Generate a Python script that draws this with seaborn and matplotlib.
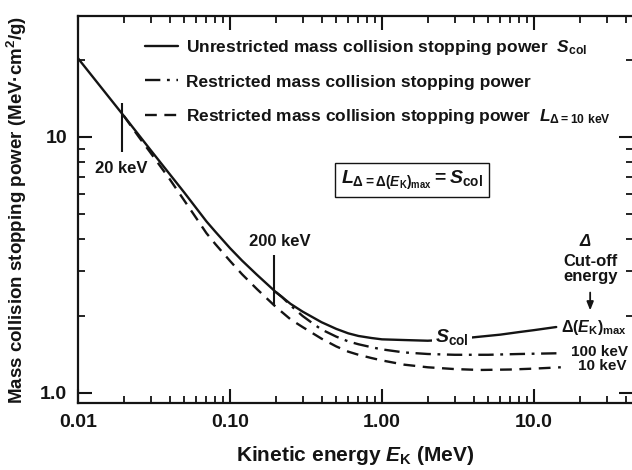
import numpy as np
import pandas as pd
import matplotlib
matplotlib.use("Agg")
import matplotlib.pyplot as plt
from matplotlib.lines import Line2D
from matplotlib.ticker import FixedLocator, LogLocator, NullFormatter
import seaborn as sns

# ---------------- data ----------------
# Unrestricted mass collision stopping power S_col (MeV cm^2/g)
e_scol = [0.01, 0.02, 0.03, 0.05, 0.07, 0.08, 0.1, 0.12, 0.15, 0.2, 0.25, 0.3, 0.4, 0.5,
          0.6, 0.7, 0.85, 1.0, 1.4, 2.0, 3.0, 4.0, 6.0, 8.0, 10.0, 14.0]
s_scol = [20.3, 12.1, 8.9, 6.07, 4.68, 4.27, 3.68, 3.29, 2.90, 2.48, 2.23, 2.08, 1.89, 1.78,
          1.71, 1.67, 1.64, 1.62, 1.61, 1.60, 1.62, 1.65, 1.69, 1.73, 1.76, 1.81]

# Restricted, cut-off 100 keV (dash-dot)
e_r100 = [0.2, 0.22, 0.25, 0.3, 0.35, 0.4, 0.5, 0.6, 0.7, 0.85, 1.0, 1.4, 2.0, 3.0, 5.0, 8.0, 15.0]
s_r100 = [2.48, 2.37, 2.20, 2.00, 1.87, 1.77, 1.66, 1.59, 1.55, 1.51, 1.48, 1.44, 1.42, 1.41,
          1.41, 1.42, 1.43]

# Restricted, cut-off 10 keV (dashed)
e_r10 = [0.02, 0.025, 0.03, 0.04, 0.05, 0.06, 0.07, 0.08, 0.1, 0.12, 0.15, 0.2, 0.25, 0.3, 0.4,
         0.5, 0.6, 0.7, 0.85, 1.0, 1.4, 2.0, 3.0, 4.4, 7.0, 10.0, 15.0]
s_r10 = [12.1, 10.05, 8.68, 6.86, 5.65, 4.82, 4.21, 3.82, 3.28, 2.91, 2.55, 2.17, 1.94, 1.81,
         1.63, 1.52, 1.45, 1.41, 1.37, 1.34, 1.29, 1.26, 1.24, 1.23, 1.235, 1.245, 1.26]

x_ticks = [0.01, 0.1, 1.0, 10.0]
x_ticklabels = ["0.01", "0.10", "1.00", "10.0"]
y_ticks = [1.0, 10.0]
y_ticklabels = ["1.0", "10"]

legend_labels = [
    r"Unrestricted mass collision stopping power  $S_{\mathrm{col}}$",
    "Restricted mass collision stopping power",
    r"Restricted mass collision stopping power  $L_{\Delta = 10\ \mathrm{keV}}$",
]

# ---------------- style ----------------
sns.set_style("ticks")
plt.rcParams["font.family"] = ["Liberation Sans", "DejaVu Sans"]
plt.rcParams["font.weight"] = "bold"
plt.rcParams["mathtext.fontset"] = "custom"
plt.rcParams["mathtext.rm"] = "Liberation Sans:bold"
plt.rcParams["mathtext.bf"] = "Liberation Sans:bold"
plt.rcParams["mathtext.sf"] = "Liberation Sans:bold"
plt.rcParams["mathtext.it"] = "Liberation Sans:bold:italic"
plt.rcParams["axes.labelweight"] = "bold"

INK = "#141414"
LW = 1.7
DASHED = (0, (5.0, 3.2))
DASHDOT = (0, (6.5, 2.8, 1.2, 2.8))

fig = plt.figure(figsize=(6.32, 4.70), dpi=100)
fig.patch.set_facecolor("white")
ax = fig.add_axes([0.1234, 0.1426, 0.8787, 0.8234])

sns.lineplot(x=e_scol, y=s_scol, ax=ax, color=INK, lw=LW, linestyle="-", zorder=3)
sns.lineplot(x=e_r100, y=s_r100, ax=ax, color=INK, lw=LW, linestyle=DASHDOT, zorder=3)
sns.lineplot(x=e_r10, y=s_r10, ax=ax, color=INK, lw=LW, linestyle=DASHED, zorder=3)

ax.set_xscale("log")
ax.set_yscale("log")
ax.set_xlim(0.01, 45)
ax.set_ylim(0.914, 29.7)

for s in ax.spines.values():
    s.set_linewidth(1.6)
    s.set_color(INK)

ax.xaxis.set_major_locator(FixedLocator(x_ticks))
ax.set_xticklabels(x_ticklabels)
ax.yaxis.set_major_locator(FixedLocator(y_ticks))
ax.set_yticklabels(y_ticklabels)
ax.xaxis.set_minor_locator(LogLocator(base=10, subs=np.arange(2, 10)))
ax.yaxis.set_minor_locator(LogLocator(base=10, subs=np.arange(2, 10)))
ax.xaxis.set_minor_formatter(NullFormatter())
ax.yaxis.set_minor_formatter(NullFormatter())
ax.tick_params(which="both", direction="in", top=True, right=True, colors=INK)
ax.tick_params(which="major", length=10, width=1.5, labelsize=14, pad=8)
ax.tick_params(which="minor", length=5, width=1.3)
for lab in ax.get_xticklabels() + ax.get_yticklabels():
    lab.set_fontweight("bold")

ax.set_xlabel(r"Kinetic energy $E_{\mathrm{K}}$ (MeV)", fontsize=15, fontweight="bold",
              labelpad=9, color=INK)
ax.set_ylabel(r"Mass collision stopping power (MeV·cm$^{2}$/g)", fontsize=13.5,
              fontweight="bold", labelpad=8, color=INK)

# legend
handles = [
    Line2D([], [], color=INK, lw=LW, linestyle="-"),
    Line2D([], [], color=INK, lw=LW, linestyle=DASHDOT),
    Line2D([], [], color=INK, lw=LW, linestyle=DASHED),
]
leg = ax.legend(handles, legend_labels, loc="upper left",
                bbox_to_anchor=(145 / 632, 1 - 38 / 470), bbox_transform=fig.transFigure,
                frameon=False, fontsize=12.5, handlelength=1.9, handletextpad=0.45,
                labelspacing=1.0, borderpad=0, borderaxespad=0)
for t in leg.get_texts():
    t.set_fontweight("bold")
    t.set_color(INK)

# ---------------- annotations ----------------
mark_e = [0.02, 0.2]
mark_span = [(8.7, 13.6), (2.21, 3.46)]
for e, (lo, hi) in zip(mark_e, mark_span):
    ax.vlines(e * 0.97, lo, hi, color=INK, lw=1.5, zorder=4)

tk = dict(fontweight="bold", color=INK, zorder=5)
ax.text(0.0192, 7.5, "20 keV", ha="center", va="center", fontsize=12, **tk)
ax.text(0.213, 3.89, "200 keV", ha="center", va="center", fontsize=12, **tk)
ax.text(1.57, 6.79, r"$L_{\Delta=\Delta(E_{\mathrm{K}})_{\mathrm{max}}}= S_{\mathrm{col}}$",
        ha="center", va="center", fontsize=14, **tk,
        bbox=dict(boxstyle="square,pad=0.3", fc="white", ec=INK, lw=1.0))
ax.text(2.9, 1.655, r"$S_{\mathrm{col}}$", ha="center", va="center", fontsize=14,
        bbox=dict(boxstyle="square,pad=0.15", fc="white", ec="none"), **tk)
ax.text(21.6, 3.89, "Δ", ha="center", va="center", fontsize=12, fontstyle="italic",
        fontweight="bold", color=INK)
ax.text(23.4, 3.25, "Cut-off", ha="center", va="center", fontsize=12, **tk)
ax.text(23.4, 2.84, "energy", ha="center", va="center", fontsize=12, **tk)
ax.annotate("", xy=(23.4, 2.05), xytext=(23.4, 2.53),
            arrowprops=dict(arrowstyle="-|>,head_length=0.5,head_width=0.2",
                            color=INK, lw=1.3))
ax.text(15.0, 1.795, r"$\Delta(E_{\mathrm{K}})_{\mathrm{max}}$", ha="left", va="center",
        fontsize=11.5, **tk)
ax.text(17.5, 1.446, "100 keV", ha="left", va="center", fontsize=11, **tk)
ax.text(19.4, 1.275, "10 keV", ha="left", va="center", fontsize=11, **tk)

fig.savefig("out.png", dpi=100, facecolor="white")
